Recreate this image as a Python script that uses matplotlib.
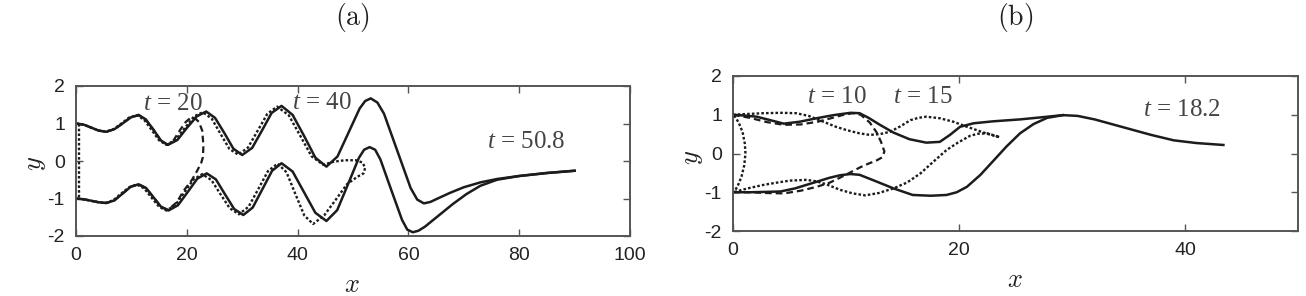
import matplotlib
matplotlib.use("Agg")
import matplotlib.pyplot as plt

# ---- panel (a): interface shapes at t = 20, 40, 50.8 ----
a_x_508_up = [0, 1.4, 2.75, 4.1, 5.5, 6.95, 8.4, 9.85, 11.3, 12.6, 14.0, 15.3, 16.6,
              18.3, 20.0, 21.8, 23.5, 25.1, 26.8, 28.4, 30.0, 31.8, 33.6, 35.3, 37.1,
              39.1, 41.2, 43.2, 45.2, 47.2, 49.2, 51.2, 52.2, 53.2, 54.4, 55.6, 58.0,
              60.4, 61.6, 62.8, 64.0, 65.0, 67.5, 70.0, 73.0, 76.0, 80.0, 85.0, 90.0]
a_y_508_up = [1.0, 0.97, 0.89, 0.81, 0.78, 0.85, 1.0, 1.16, 1.23, 1.11, 0.83, 0.55, 0.43,
              0.56, 0.88, 1.19, 1.32, 1.15, 0.74, 0.33, 0.16, 0.35, 0.82, 1.28, 1.47,
              1.23, 0.66, 0.09, -0.15, 0.12, 0.76, 1.40, 1.60, 1.67, 1.56, 1.26, 0.27,
              -0.72, -1.03, -1.13, -1.09, -1.02, -0.85, -0.70, -0.57, -0.48, -0.40, -0.32, -0.26]

a_x_508_lo = [0, 1.4, 2.75, 4.1, 5.5, 6.95, 8.4, 9.85, 11.3, 12.65, 14.0, 15.35, 16.7,
              18.4, 20.15, 21.9, 23.6, 25.25, 26.9, 28.55, 30.2, 31.9, 33.65, 35.4, 37.1,
              39.1, 41.15, 43.2, 45.2, 47.15, 49.1, 51.05, 52.0, 53.0, 54.0, 54.95, 56.9,
              58.85, 59.8, 60.8, 61.8, 63.0, 65.5, 68.0, 70.5, 73.0, 76.0, 80.0, 85.0, 90.0]
a_y_508_lo = [-1.0, -1.02, -1.06, -1.10, -1.12, -1.05, -0.87, -0.69, -0.62, -0.72, -0.97, -1.22, -1.32,
              -1.18, -0.83, -0.47, -0.33, -0.49, -0.89, -1.28, -1.44, -1.24, -0.75, -0.26, -0.06,
              -0.28, -0.83, -1.38, -1.60, -1.31, -0.62, 0.08, 0.30, 0.37, 0.30, 0.04, -0.77,
              -1.57, -1.83, -1.90, -1.86, -1.75, -1.45, -1.15, -0.88, -0.66, -0.50, -0.40, -0.32, -0.26]

a_x_40 = [0, 1.4, 2.75, 4.1, 5.3, 6.8, 8.2, 9.6, 11.0, 12.3, 13.7, 15.0, 16.3, 18.0, 19.7,
          21.3, 22.9, 24.5, 26.1, 27.7, 29.3, 31.05, 32.8, 34.55, 36.3, 38.4, 40.45, 42.5,
          44.6, 46.5, 48.5, 50.5, 51.7, 52.2, 51.9, 50.8, 48.9, 46.8, 44.8, 42.8, 41.2, 39.6,
          38.0, 36.4, 34.65, 32.9, 31.15, 29.4, 27.75, 26.1, 24.45, 22.8, 21.2, 19.55, 17.9,
          16.3, 15.0, 13.65, 12.3, 11.0, 9.6, 8.15, 6.7, 5.3, 4.0, 2.65, 1.3, 0]
a_y_40 = [1.0, 0.97, 0.89, 0.81, 0.78, 0.85, 1.0, 1.16, 1.22, 1.10, 0.82, 0.55, 0.43, 0.57, 0.89,
          1.19, 1.30, 1.13, 0.72, 0.32, 0.17, 0.36, 0.81, 1.26, 1.45, 1.22, 0.68, 0.13,
          -0.10, -0.02, 0.02, 0.02, -0.04, -0.18, -0.33, -0.42, -0.62, -1.05, -1.45, -1.68, -1.45, -0.88,
          -0.30, -0.07, -0.27, -0.75, -1.22, -1.42, -1.26, -0.89, -0.51, -0.35, -0.49, -0.84, -1.18,
          -1.32, -1.22, -0.98, -0.73, -0.63, -0.70, -0.87, -1.05, -1.12, -1.10, -1.06, -1.02, -1.0]

a_x_20 = [0, 1.4, 2.75, 4.1, 5.5, 6.95, 8.4, 9.85, 11.3, 12.6, 14.0, 15.3, 16.5, 17.6, 18.8,
          19.8, 20.6, 21.4, 22.2, 22.8, 23.0, 22.9, 22.6, 21.8, 20.9, 19.4, 18.2, 16.6, 15.3,
          14.0, 12.6, 11.2, 9.8, 8.4, 6.9, 5.5, 4.1, 2.75, 1.4, 0]
a_y_20 = [1.0, 0.97, 0.89, 0.81, 0.78, 0.85, 1.0, 1.16, 1.22, 1.10, 0.83, 0.55, 0.43, 0.55, 0.83,
          1.04, 1.14, 1.15, 1.04, 0.80, 0.40, 0.10, -0.05, -0.28, -0.51, -0.80, -1.10, -1.30, -1.22,
          -0.97, -0.72, -0.62, -0.69, -0.87, -1.05, -1.12, -1.10, -1.06, -1.02, -1.0]

a_x_0 = [0.6, 0.6]
a_y_0 = [1.0, -1.0]

a_labels = ["20", "40", "50.8"]
a_label_x = [17.4, 44.3, 81.3]
a_label_y = [1.52, 1.55, 0.51]

# ---- panel (b): interface shapes at t = 10, 15, 18.2 ----
b_x_182_up = [0, 1.0, 2.1, 3.3, 4.5, 5.9, 7.4, 8.9, 10.4, 11.2, 12.0, 13.0, 14.2, 15.6, 17.1,
              18.3, 19.2, 20.1, 21.3, 23.0, 25.4, 27.5, 29.2, 30.5, 32.0, 33.5, 35.0, 37.0,
              39.0, 41.0, 43.4]
b_y_182_up = [1.0, 0.98, 0.95, 0.86, 0.77, 0.82, 0.91, 0.99, 1.05, 1.04, 0.92, 0.74, 0.54, 0.37, 0.28,
              0.30, 0.48, 0.69, 0.78, 0.83, 0.88, 0.94, 0.99, 0.97, 0.88, 0.76, 0.64, 0.48,
              0.34, 0.27, 0.22]

b_x_182_lo = [0, 1.5, 3.0, 4.2, 5.5, 6.5, 7.4, 8.5, 9.5, 10.4, 11.2, 12.5, 14.2, 15.9, 17.5,
              18.9, 19.8, 20.7, 21.9, 23.1, 24.2, 25.4, 26.6, 27.8, 29.2]
b_y_182_lo = [-1.0, -1.0, -0.99, -0.98, -0.9, -0.81, -0.73, -0.63, -0.56, -0.53, -0.55, -0.7, -0.9, -1.07, -1.09,
              -1.07, -1.0, -0.86, -0.55, -0.17, 0.18, 0.52, 0.76, 0.92, 0.99]

b_x_15 = [0, 1.3, 2.7, 4.2, 5.6, 6.7, 8.0, 9.1, 10.1, 11.2, 12.1, 13.0, 13.9, 14.8, 15.7,
          16.4, 17.1, 18.3, 19.5, 20.6, 21.6, 22.6, 23.6, 23.2, 22.5, 21.7, 21.0, 19.9, 18.9,
          17.7, 16.6, 15.4, 14.2, 12.9, 11.7, 10.6, 9.5, 8.3, 7.4, 6.5, 5.0, 3.7, 2.7, 1.3, 0]
b_y_15 = [1.0, 1.02, 1.04, 1.05, 1.04, 0.97, 0.82, 0.69, 0.6, 0.52, 0.48, 0.5, 0.56, 0.7, 0.86,
          0.92, 0.95, 0.91, 0.82, 0.7, 0.6, 0.5, 0.42, 0.46, 0.52, 0.51, 0.46, 0.28, 0.09,
          -0.22, -0.51, -0.75, -0.9, -1.02, -1.08, -1.03, -0.94, -0.8, -0.72, -0.68, -0.7, -0.76, -0.81, -0.9, -1.0]

b_x_10 = [0, 1.5, 3.0, 4.5, 6.0, 7.5, 8.8, 9.8, 10.6, 11.3, 12.1, 12.7, 13.1, 13.4, 13.2,
          12.7, 12.0, 11.3, 10.5, 9.5, 8.5, 7.4, 6.0, 4.5, 3.0, 1.5, 0]
b_y_10 = [1.0, 0.92, 0.81, 0.74, 0.75, 0.82, 0.92, 1.0, 1.04, 1.0, 0.8, 0.55, 0.3, 0.05, -0.1,
          -0.18, -0.26, -0.35, -0.47, -0.62, -0.76, -0.86, -0.96, -1.03, -1.02, -1.0, -1.0]

b_x_0 = [0.1, 0.5, 0.85, 1.05, 1.1, 1.0, 0.75, 0.4, 0.1]
b_y_0 = [0.98, 0.8, 0.55, 0.25, 0.0, -0.3, -0.6, -0.85, -0.98]

b_labels = ["10", "15", "18.2"]
b_label_x = [9.2, 16.8, 39.7]
b_label_y = [1.47, 1.47, 1.12]

plt.rcParams['font.family'] = ['Liberation Sans', 'DejaVu Sans']
plt.rcParams['axes.unicode_minus'] = False
plt.rcParams['mathtext.fontset'] = 'custom'
plt.rcParams['mathtext.it'] = 'Liberation Serif:italic'
plt.rcParams['mathtext.rm'] = 'Liberation Serif'

INK = '#1c1c1c'
SOLID = dict(color=INK, lw=1.8, ls='-')
DOTTED = dict(color=INK, lw=1.7, ls=(0, (1.1, 0.9)))
DASHED = dict(color=INK, lw=1.6, ls=(0, (3.0, 1.8)))

W, H = 1306, 296
fig = plt.figure(figsize=(W / 100, H / 100), dpi=100)
ax_a = fig.add_axes([76 / W, 1 - 236 / H, 554 / W, 150 / H])
ax_b = fig.add_axes([733 / W, 1 - 231 / H, 565 / W, 155 / H])


def style_axes(ax, xmax, xticks):
    ax.set_xlim(0, xmax)
    ax.set_ylim(-2, 2)
    ax.set_xticks(xticks)
    ax.set_yticks([-2, -1, 0, 1, 2])
    ax.tick_params(direction='in', top=True, right=True, length=5, width=1,
                   color='#555555', labelsize=14, labelcolor='#222222', pad=8)
    for s in ax.spines.values():
        s.set_color('#555555')
        s.set_linewidth(1.4)


# Panel (a)
ax_a.plot(a_x_0, a_y_0, **DOTTED)
ax_a.plot(a_x_20, a_y_20, **DASHED)
ax_a.plot(a_x_40, a_y_40, **DOTTED)
ax_a.plot(a_x_508_up, a_y_508_up, **SOLID)
ax_a.plot(a_x_508_lo, a_y_508_lo, **SOLID)
for lab, x, y in zip(a_labels, a_label_x, a_label_y):
    ax_a.text(x, y, r'$t$ = ' + lab, fontfamily='Liberation Serif', fontsize=18,
              color='#444444', ha='center', va='center')
style_axes(ax_a, 100, [0, 20, 40, 60, 80, 100])

# Panel (b)
ax_b.plot(b_x_0, b_y_0, **DOTTED)
ax_b.plot(b_x_10, b_y_10, **DASHED)
ax_b.plot(b_x_15, b_y_15, **DOTTED)
ax_b.plot(b_x_182_up, b_y_182_up, **SOLID)
ax_b.plot(b_x_182_lo, b_y_182_lo, **SOLID)
for lab, x, y in zip(b_labels, b_label_x, b_label_y):
    ax_b.text(x, y, r'$t$ = ' + lab, fontfamily='Liberation Serif', fontsize=18,
              color='#444444', ha='center', va='center')
style_axes(ax_b, 50, [0, 20, 40])

# Titles and axis labels in Computer Modern
for cx, tag, xl_y, yl_x, yl_y in [(352, '(a)', 285, 36, 163), (1015, '(b)', 280, 693, 157)]:
    fig.text(cx / W, 1 - 18 / H, r'$\mathrm{' + tag + '}$', math_fontfamily='cm',
             fontsize=20, ha='center', va='center', color='#222222')
    fig.text(cx / W, 1 - xl_y / H, r'$x$', math_fontfamily='cm', fontsize=19,
             ha='center', va='center', color='#222222')
    fig.text(yl_x / W, 1 - yl_y / H, r'$y$', math_fontfamily='cm', fontsize=19,
             rotation=90, ha='center', va='center', color='#222222')

fig.savefig('out.png', dpi=100)
